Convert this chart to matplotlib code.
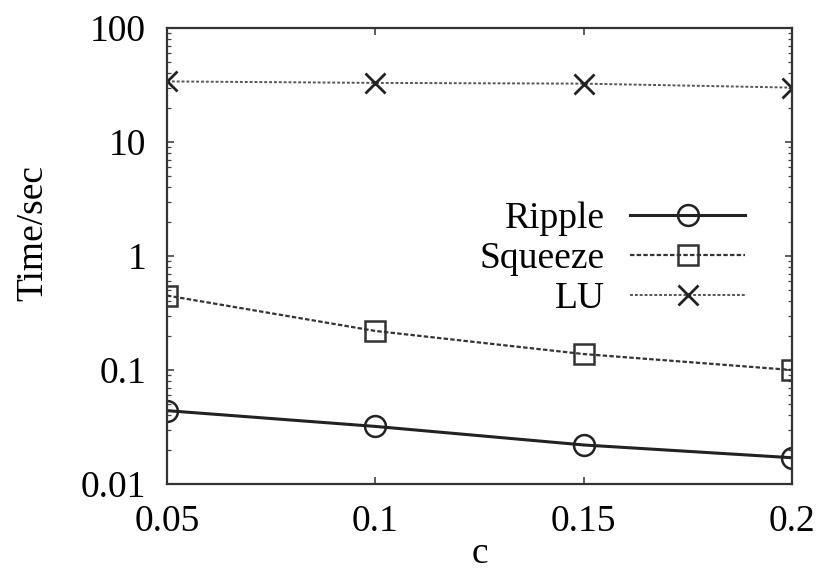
import numpy as np
from matplotlib import pyplot as plt
from matplotlib.ticker import LogLocator, NullFormatter, FixedLocator

plt.rcParams['font.family'] = ['Liberation Serif', 'DejaVu Serif']

c = [0.05, 0.1, 0.15, 0.2]
ripple = [0.044, 0.032, 0.022, 0.017]
squeeze = [0.45, 0.22, 0.138, 0.1]
lu = [34, 33, 32.5, 30]

fig = plt.figure(figsize=(8.23, 5.74), dpi=100)
ax = fig.add_axes([167/823, 1 - 484/574, 625/823, 456/574])

ax.plot(c, ripple, color='#222222', lw=2.2, marker='o', ms=15, mfc='none', mew=1.8, label='Ripple')
ax.plot(c, squeeze, color='#333333', lw=1.6, ls=(0, (2, 1)), marker='s', ms=15, mfc='none', mew=1.8, label='Squeeze')
ax.plot(c, lu, color='#555555', lw=1.4, ls=(0, (1.5, 1)), marker='x', ms=15, mew=2.0, mec='#222222', label='LU')

ax.set_yscale('log')
ax.set_xlim(0.05, 0.2)
ax.set_ylim(0.01, 100)
ax.xaxis.set_major_locator(FixedLocator(c))
ax.set_xticklabels(['0.05', '0.1', '0.15', '0.2'])
ax.set_yticks([0.01, 0.1, 1, 10, 100])
ax.set_yticklabels(['0.01', '0.1', '1', '10', '100'])
ax.yaxis.set_minor_locator(LogLocator(base=10, subs=np.arange(2, 10)))
ax.yaxis.set_minor_formatter(NullFormatter())
ax.tick_params(which='both', direction='in', top=True, right=True, labelsize=27, color='#444444')
ax.tick_params(which='major', length=5, width=1.2)
ax.tick_params(which='minor', length=3, width=0.9)
ax.tick_params(axis='x', pad=15)
ax.tick_params(axis='y', pad=15)
for s in ax.spines.values():
    s.set_linewidth(1.6)
    s.set_color('#333333')

ax.set_xlabel('c', fontsize=27, labelpad=-2)
ax.set_ylabel('Time/sec', fontsize=27)
ax.yaxis.set_label_coords(-0.186, 0.55)

ax.legend(loc='upper right', bbox_to_anchor=(0.925, 0.62), frameon=False, markerfirst=False,
          fontsize=27, handlelength=3.07, labelspacing=0.15, handletextpad=0.67,
          borderpad=0, borderaxespad=0)

fig.savefig('out.png', dpi=100)
